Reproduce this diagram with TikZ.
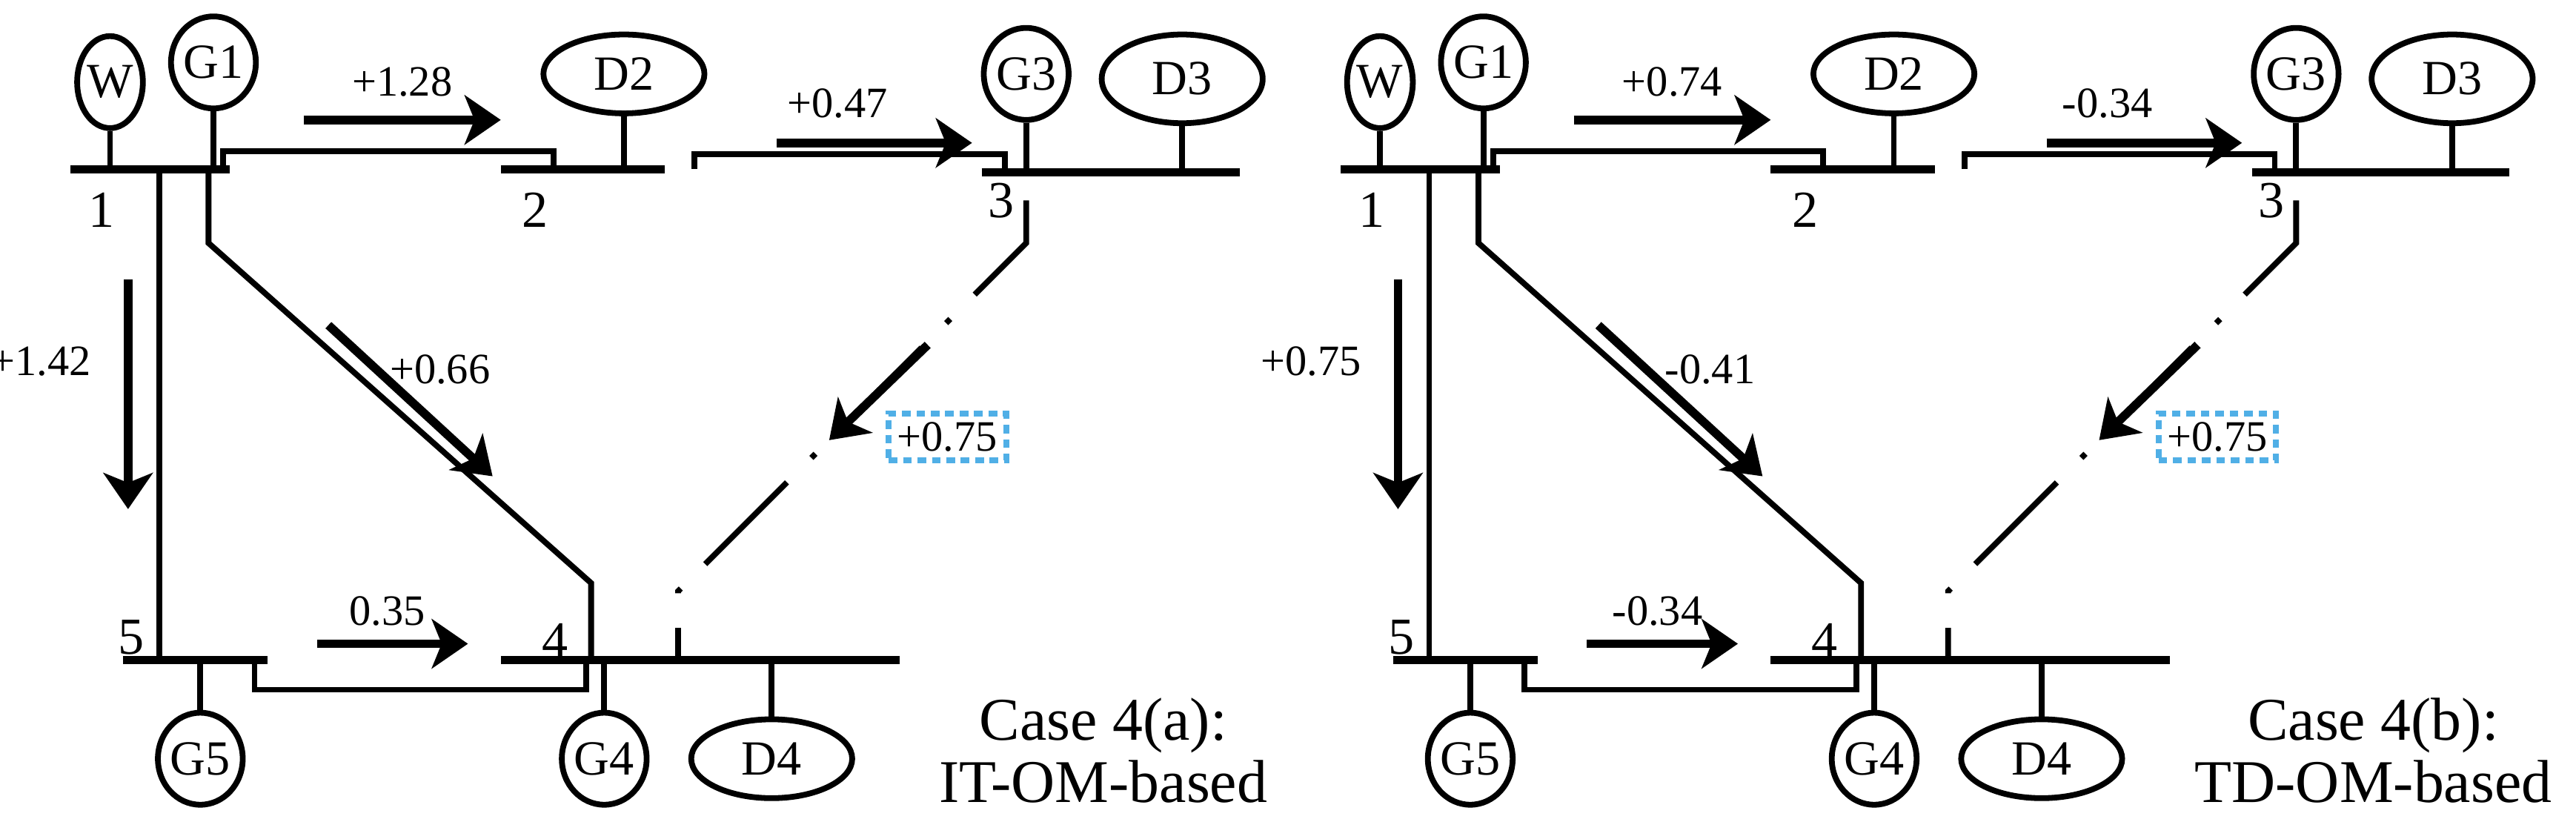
\documentclass[tikz,border=0pt]{standalone}
\usepackage{fontspec}
\setmainfont{Liberation Serif}
\usetikzlibrary{arrows.meta,shapes.geometric}
\tikzset{
 bus/.style={line width=1.4pt},
 ln/.style={line width=1pt},
 dd/.style={line width=1pt,dash pattern=on 20pt off 6pt on 1pt off 6pt},
 gen/.style={ellipse,draw,line width=1pt,minimum width=0.4cm,minimum height=0.56cm,inner sep=0pt,font=\fontsize{8.5}{9}\selectfont},
 load/.style={ellipse,draw,line width=1pt,minimum width=0.98cm,minimum height=0.48cm,inner sep=0pt,font=\fontsize{8.5}{9}\selectfont},
 fl/.style={line width=1.5pt,-{Stealth[length=0.22cm,width=0.3cm,inset=0.06cm]}},
 lab/.style={font=\fontsize{7.5}{9}\selectfont,inner sep=1pt},
 box/.style={draw=cyan!80!blue!70,dash pattern=on 1.5pt off 1pt,line width=1pt,inner sep=1.5pt,font=\fontsize{7.5}{9}\selectfont},
 captxt/.style={font=\fontsize{10.5}{12}\selectfont,align=center}
}
\newcommand\drawpanel[9]{%
\begin{scope}[xshift=#2cm,x=0.01cm,y=-0.01cm]
% buses
\draw[bus] (43,103) coordinate(#1b1a) -- (140,103) coordinate(#1b1b);
\draw[bus] (305,103) coordinate(#1b2a) -- (405,103) coordinate(#1b2b);
\draw[bus] (598,105) coordinate(#1b3a) -- (755,105) coordinate(#1b3b);
\draw[bus] (305,402) coordinate(#1b4a) -- (548,402) coordinate(#1b4b);
\draw[bus] (75,402) coordinate(#1b5a) -- (163,402) coordinate(#1b5b);
\node[lab,font=\fontsize{9}{10}\selectfont] (#1n1) at (62,128) {1};
\node[lab,font=\fontsize{9}{10}\selectfont] (#1n2) at (326,128) {2};
\node[lab,font=\fontsize{9}{10}\selectfont] (#1n3) at (610,122) {3};
\node[lab,font=\fontsize{9}{10}\selectfont] (#1n4) at (338,390) {4};
\node[lab,font=\fontsize{9}{10}\selectfont] (#1n5) at (80,388) {5};
% generators / loads
\node[gen] (#1W) at (67,50) {W};
\node[gen] (#1G1) at (130,38) {G1};
\node[load] (#1D2) at (380,45) {D2};
\node[gen] (#1G3) at (625,45) {G3};
\node[load,minimum height=0.54cm] (#1D3) at (720,48) {D3};
\node[gen] (#1G5) at (122,462) {G5};
\node[gen] (#1G4) at (368,462) {G4};
\node[load] (#1D4) at (470,462) {D4};
\draw[ln] (#1W.south) -- (67,103);
\draw[ln] (#1G1.south) -- (130,103);
\draw[ln] (#1D2.south) -- (380,103);
\draw[ln] (#1G3.south) -- (625,105);
\draw[ln] (#1D3.south) -- (720,105);
\draw[ln] (#1G5.north) -- (122,402);
\draw[ln] (#1G4.north) -- (368,402);
\draw[ln] (#1D4.north) -- (470,402);
% lines
\draw[ln] (136,103) -- (136,92) -- (337,92) -- (337,103);
\draw[ln] (423,103) -- (423,94) -- (612,94) -- (612,105);
\draw[ln] (97,103) -- (97,402);
\draw[ln] (127,103) -- (127,148) -- (360,355) -- (360,402);
\draw[dd] (625,122) -- (625,148) -- (413,360) -- (413,402);
\draw[ln] (155,402) -- (155,420) -- (357,420) -- (357,402);
% flows
\draw[fl] (185,73) coordinate(#1a1) -- (305,73) coordinate(#1a1e);
\node[lab] (#1l1) at (245,50) {#3};
\draw[fl] (473,87) coordinate(#1a2) -- (592,87) coordinate(#1a2e);
\node[lab] (#1l2) at (510,63) {#4};
\draw[fl] (78,170) coordinate(#1a3) -- (78,310) coordinate(#1a3e);
\node[lab] (#1l3) at (25,220) {#5};
\draw[fl] (200,198) coordinate(#1a4) -- (300,290) coordinate(#1a4e);
\node[lab] (#1l4) at (268,225) {#6};
\draw[fl] (565,210) coordinate(#1a5) -- (505,268) coordinate(#1a5e);
\node[box] (#1l5) at (577,266) {+0.75};
\draw[fl] (193,392) coordinate(#1a6) -- (285,392) coordinate(#1a6e);
\node[lab] (#1l6) at (236,372) {#7};
\node[captxt] (#1c1) at (672,442) {#8};
\node[captxt] (#1c2) at (672,476) {#9};
\end{scope}}
\begin{document}
\begin{tikzpicture}
\useasboundingbox (0,0) rectangle (15.68,-4.998);
\drawpanel{L}{0}{+1.28}{+0.47}{+1.42}{+0.66}{0.35}{Case 4(a):}{IT-OM-based}
\drawpanel{R}{7.73}{+0.74}{-0.34}{+0.75}{-0.41}{-0.34}{Case 4(b):}{TD-OM-based}
\end{tikzpicture}
\end{document}
